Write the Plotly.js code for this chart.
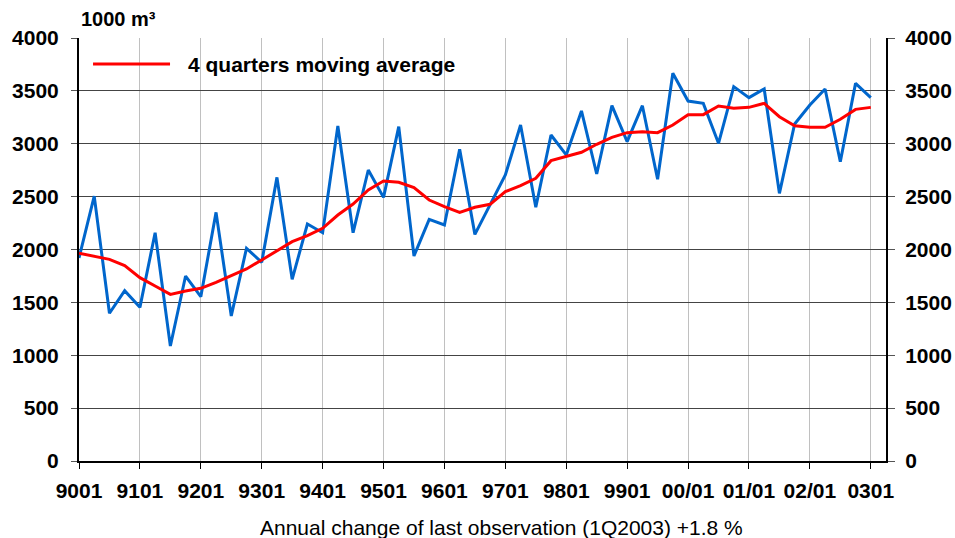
<!DOCTYPE html>
<html>
<head>
<meta charset="utf-8">
<script src="https://cdn.plot.ly/plotly-3.0.1.min.js"></script>
<style>
  html, body { margin: 0; padding: 0; background: #ffffff; }
  #chart { width: 955px; height: 538px; }
</style>
</head>
<body>
<div id="chart"></div>
<script>
// Quarters 1990Q1 .. 2003Q1
const years = ['90', '91', '92', '93', '94', '95', '96', '97', '98', '99', '00', '01', '02', '03'];
const quarters = [];
years.forEach(y => {
    for (let q = 1; q <= 4; q++) {
        if (y === '03' && q > 1) break;
        quarters.push(y + '0' + q);
    }
});

// Year ticks and their labels
const tickQuarters = ['9001', '9101', '9201', '9301', '9401', '9501', '9601', '9701', '9801', '9901', '0001', '0101', '0201', '0301'];
const tickLabels = ['9001', '9101', '9201', '9301', '9401', '9501', '9601', '9701', '9801', '9901', '00/01', '01/01', '02/01', '0301'];

// Quarterly values, 1000 m3
const quarterly = [
    1920, 2505, 1397, 1611, 1453, 2159, 1087, 1749, 1554, 2351,
    1371, 2011, 1879, 2682, 1718, 2241, 2159, 3168, 2159, 2752,
    2493, 3162, 1939, 2285, 2232, 2947, 2143, 2421, 2704, 3177,
    2399, 3083, 2894, 3310, 2714, 3360, 3020, 3360, 2664, 3666,
    3404, 3382, 3004, 3540, 3436, 3518, 2531, 3187, 3366, 3518,
    2830, 3571, 3436
];

// 4 quarters moving average
const movingAvg = [
    1964, 1939, 1907, 1847, 1734, 1655, 1576, 1608, 1633, 1690,
    1752, 1816, 1901, 1986, 2074, 2131, 2200, 2326, 2430, 2563,
    2648, 2635, 2585, 2468, 2405, 2351, 2399, 2427, 2547, 2604,
    2673, 2840, 2878, 2919, 2995, 3061, 3105, 3114, 3105, 3177,
    3275, 3275, 3357, 3335, 3344, 3382, 3256, 3171, 3155, 3155,
    3231, 3325, 3344
];

const yTicks = [0, 500, 1000, 1500, 2000, 2500, 3000, 3500, 4000];

const fontFamily = '"Liberation Sans", Arial, sans-serif';

const traces = [
    {
        x: quarters,
        y: quarterly,
        type: 'scatter',
        mode: 'lines',
        name: 'Quarterly',
        line: { color: '#0066cc', width: 3 },
        showlegend: false
    },
    {
        // drawn against the right axis (same scale) so it gets rendered
        x: quarters,
        y: movingAvg,
        yaxis: 'y2',
        type: 'scatter',
        mode: 'lines',
        name: '4 quarters moving average',
        line: { color: '#ff0000', width: 3 },
        showlegend: false
    }
];

const tickFont = { family: fontFamily, size: 21, color: '#000000', weight: 'bold' };

const layout = {
    width: 955,
    height: 538,
    margin: { l: 79, r: 69, t: 38, b: 77 },
    paper_bgcolor: '#ffffff',
    plot_bgcolor: '#ffffff',
    font: { family: fontFamily, color: '#000000' },
    showlegend: false,
    xaxis: {
        type: 'category',
        range: [0, 53],
        tickmode: 'array',
        tickvals: tickQuarters,
        ticktext: tickLabels,
        ticks: 'outside',
        ticklen: 6,
        tickcolor: '#000000',
        tickfont: tickFont,
        ticklabelstandoff: 4,
        showgrid: true,
        gridcolor: '#c0c0c0',
        gridwidth: 1,
        showline: true,
        linecolor: '#000000',
        linewidth: 2,
        zeroline: false
    },
    yaxis: {
        range: [0, 4000],
        tickmode: 'array',
        tickvals: yTicks,
        ticks: 'outside',
        ticklen: 6,
        tickcolor: '#555555',
        tickfont: tickFont,
        ticklabelstandoff: 8,
        showgrid: true,
        gridcolor: '#444444',
        gridwidth: 1,
        showline: true,
        linecolor: '#000000',
        linewidth: 2,
        zeroline: false
    },
    yaxis2: {
        overlaying: 'y',
        side: 'right',
        anchor: 'x',
        range: [0, 4000],
        tickmode: 'array',
        tickvals: yTicks,
        ticks: 'outside',
        ticklen: 7,
        tickcolor: '#555555',
        tickfont: tickFont,
        ticklabelstandoff: 6,
        showgrid: false,
        showline: true,
        linecolor: '#000000',
        linewidth: 2,
        zeroline: false
    },
    shapes: [
        // legend key
        {
            type: 'line', xref: 'paper', yref: 'paper',
            x0: 0.0174, x1: 0.1128, y0: 0.9385, y1: 0.9385,
            line: { color: '#ff0000', width: 3 }
        }
    ],
    annotations: [
        {
            text: '1000 m³',
            xref: 'paper', yref: 'paper',
            x: 0.0, y: 1.044,
            xanchor: 'left', yanchor: 'middle',
            showarrow: false,
            font: { family: fontFamily, size: 20, color: '#000000', weight: 'bold' }
        },
        {
            text: '4 quarters moving average',
            xref: 'paper', yref: 'paper',
            x: 0.132, y: 0.9385,
            xanchor: 'left', yanchor: 'middle',
            showarrow: false,
            font: { family: fontFamily, size: 21, color: '#000000', weight: 'bold' }
        },
        {
            // footnote under the axis, slightly right of centre as in the original
            text: 'Annual change of last observation (1Q2003) +1.8 %',
            xref: 'paper', yref: 'paper',
            x: 0.524, y: -0.158,
            xanchor: 'center', yanchor: 'middle',
            showarrow: false,
            font: { family: fontFamily, size: 21, color: '#000000' }
        }
    ]
};

const config = { displayModeBar: false, responsive: false, staticPlot: true };

Plotly.newPlot('chart', traces, layout, config);
</script>
</body>
</html>
